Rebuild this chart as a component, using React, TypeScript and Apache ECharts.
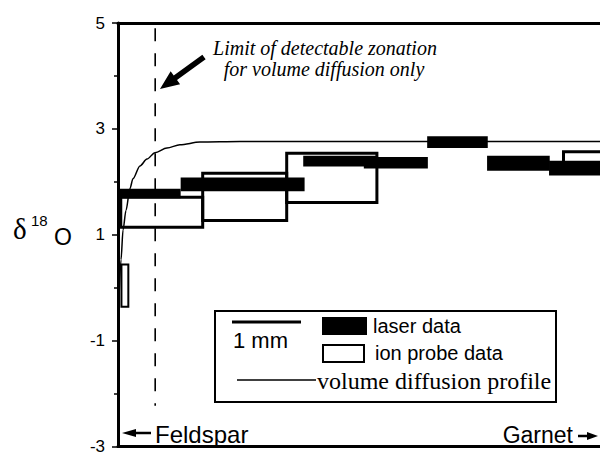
import React, { useEffect, useRef } from "react";
import * as echarts from "echarts";

// y-axis tick values (δ18O)
const yMajorTicks = [-3, -1, 1, 3, 5];
const yMinorTicks = [-2, 0, 2, 4];

// laser data: [start mm, end mm, low δ18O, high δ18O]
const laserBars = [
  [0.02, 0.91, 1.69, 1.87],
  [0.91, 2.71, 1.82, 2.08],
  [2.69, 3.76, 2.29, 2.49],
  [3.57, 4.5, 2.25, 2.47],
  [4.49, 5.37, 2.64, 2.86],
  [5.36, 6.27, 2.21, 2.49],
  [6.26, 7.1, 2.12, 2.4],
];

// ion probe data: [start mm, end mm, low δ18O, high δ18O]
const ionProbeBoxes = [
  [0.05, 0.15, -0.36, 0.44],
  [0.04, 1.23, 1.14, 1.71],
  [1.23, 2.45, 1.27, 2.16],
  [2.45, 3.76, 1.61, 2.54],
  [6.47, 7.1, 2.3, 2.57],
];

// volume diffusion profile
const diffusionX = [0.015, 0.044, 0.073, 0.116, 0.174, 0.218, 0.319, 0.421, 0.537, 0.711, 0.9, 1.19, 1.77, 7.0];
const diffusionY = [-0.18, 0.53, 1.09, 1.46, 1.875, 2.06, 2.3, 2.43, 2.55, 2.64, 2.7, 2.75, 2.76, 2.76];

// limit of detectable zonation (dashed line)
const limitX = 0.54;
const limitY = [4.9, -2.23];

const SANS = "'Liberation Sans', Arial, sans-serif";
const SERIF = "'Liberation Serif', 'Times New Roman', serif";

function arrowPoints(tail: number[], tip: number[], shaftHalf: number, headLen: number, headHalf: number) {
  const dx = tip[0] - tail[0];
  const dy = tip[1] - tail[1];
  const len = Math.sqrt(dx * dx + dy * dy);
  const ux = dx / len, uy = dy / len;
  const nx = -uy, ny = ux;
  const bx = tip[0] - ux * headLen, by = tip[1] - uy * headLen;
  return [
    [tail[0] + nx * shaftHalf, tail[1] + ny * shaftHalf],
    [bx + nx * shaftHalf, by + ny * shaftHalf],
    [bx + nx * headHalf, by + ny * headHalf],
    [tip[0], tip[1]],
    [bx - nx * headHalf, by - ny * headHalf],
    [bx - nx * shaftHalf, by - ny * shaftHalf],
    [tail[0] - nx * shaftHalf, tail[1] - ny * shaftHalf],
  ];
}

export default function App() {
  const ref = useRef<HTMLDivElement>(null);

  useEffect(() => {
    if (!ref.current) return;
    const chart = echarts.init(ref.current, undefined, { renderer: "svg" });

    const rectItem = (filled: boolean) => (_params: any, api: any) => {
      const a = api.coord([api.value(0), api.value(3)]);
      const b = api.coord([api.value(1), api.value(2)]);
      const w = b[0] - a[0];
      return {
        type: "rect",
        shape: { x: a[0], y: a[1], width: w, height: b[1] - a[1] },
        style: filled
          ? { fill: "#000" }
          : { fill: "none", stroke: "#000", lineWidth: w < 12 ? 2 : 3 },
      };
    };

    const option: any = {
      animation: false,
      backgroundColor: "#fff",
      grid: { left: 118, top: 23, height: 428.5, right: 0 },
      xAxis: [
        {
          type: "value", min: 0, max: 7, position: "bottom",
          axisLine: { show: true, onZero: false, lineStyle: { color: "#000", width: 3 } },
          axisTick: { show: false }, axisLabel: { show: false }, splitLine: { show: false },
        },
        {
          type: "value", min: 0, max: 7, position: "top",
          axisLine: { show: true, onZero: false, lineStyle: { color: "#000", width: 3 } },
          axisTick: { show: false }, axisLabel: { show: false }, splitLine: { show: false },
        },
      ],
      yAxis: [
        {
          type: "value", min: -3, max: 5, position: "left",
          axisLine: { show: true, onZero: false, lineStyle: { color: "#000", width: 3 } },
          axisTick: { show: true, length: 6, customValues: yMajorTicks, lineStyle: { color: "#000", width: 1.5 } },
          axisLabel: {
            customValues: yMajorTicks, color: "#000", fontSize: 17, fontFamily: SANS, margin: 13,
            formatter: (v: number) => String(v),
          },
          splitLine: { show: false },
        },
        {
          type: "value", min: -3, max: 5, position: "left", offset: 0,
          axisLine: { show: false, onZero: false },
          axisTick: { show: true, length: 4, customValues: yMinorTicks, lineStyle: { color: "#000", width: 1.5 } },
          axisLabel: { show: false }, splitLine: { show: false },
        },
      ],
      series: [
        {
          type: "custom", name: "ion probe data", z: 2,
          renderItem: rectItem(false), encode: { x: [0, 1], y: [2, 3] },
          data: ionProbeBoxes,
        },
        {
          type: "custom", name: "laser data", z: 3,
          renderItem: rectItem(true), encode: { x: [0, 1], y: [2, 3] },
          data: laserBars,
        },
        {
          type: "line", name: "volume diffusion profile", z: 4,
          data: diffusionX.map((x, i) => [x, diffusionY[i]]),
          smooth: 0.3, smoothMonotone: "x", showSymbol: false, symbol: "none",
          lineStyle: { color: "#000", width: 1.5 },
        },
        {
          type: "line", name: "limit", z: 4,
          data: limitY.map((y) => [limitX, y]),
          showSymbol: false, symbol: "none",
          lineStyle: { color: "#000", width: 1.6, type: [13, 12] },
        },
      ],
      graphic: [
        // annotation
        {
          type: "text", z: 10,
          style: {
            text: "Limit of detectable zonation", x: 325, y: 48,
            font: `italic 20px ${SERIF}`, fill: "#000",
            textAlign: "center", align: "center", textVerticalAlign: "middle", verticalAlign: "middle",
          },
        },
        {
          type: "text", z: 10,
          style: {
            text: "for volume diffusion only", x: 324, y: 69,
            font: `italic 20px ${SERIF}`, fill: "#000",
            textAlign: "center", align: "center", textVerticalAlign: "middle", verticalAlign: "middle",
          },
        },
        {
          type: "polygon", z: 10,
          shape: { points: arrowPoints([204, 57], [160, 89], 2.8, 19, 8) },
          style: { fill: "#000" },
        },
        // y axis title
        {
          type: "text", z: 10,
          style: { text: "δ", x: 13, y: 243, font: `29px ${SERIF}`, fill: "#000", textVerticalAlign: "bottom", verticalAlign: "bottom" },
        },
        {
          type: "text", z: 10,
          style: { text: "18", x: 31, y: 220, font: `15px ${SANS}`, fill: "#000", textVerticalAlign: "middle", verticalAlign: "middle" },
        },
        {
          type: "text", z: 10,
          style: { text: "O", x: 54, y: 237, font: `23px ${SANS}`, fill: "#000", textVerticalAlign: "middle", verticalAlign: "middle" },
        },
        // legend
        {
          type: "rect", z: 10,
          shape: { x: 215, y: 311, width: 341, height: 91 },
          style: { fill: "#fff", stroke: "#000", lineWidth: 2 },
        },
        {
          type: "line", z: 11,
          shape: { x1: 232, y1: 322, x2: 301, y2: 322 },
          style: { stroke: "#000", lineWidth: 3 },
        },
        {
          type: "text", z: 11,
          style: { text: "1 mm", x: 233, y: 340, font: `22px ${SANS}`, fill: "#000", textVerticalAlign: "middle", verticalAlign: "middle" },
        },
        {
          type: "rect", z: 11,
          shape: { x: 322, y: 317, width: 45, height: 18 },
          style: { fill: "#000" },
        },
        {
          type: "text", z: 11,
          style: { text: "laser data", x: 373, y: 326, font: `20px ${SANS}`, fill: "#000", textVerticalAlign: "middle", verticalAlign: "middle" },
        },
        {
          type: "rect", z: 11,
          shape: { x: 323, y: 345, width: 41, height: 17 },
          style: { fill: "none", stroke: "#000", lineWidth: 2 },
        },
        {
          type: "text", z: 11,
          style: { text: "ion probe data", x: 375, y: 353, font: `20px ${SANS}`, fill: "#000", textVerticalAlign: "middle", verticalAlign: "middle" },
        },
        {
          type: "line", z: 11,
          shape: { x1: 237, y1: 380, x2: 316, y2: 380 },
          style: { stroke: "#000", lineWidth: 1.5 },
        },
        {
          type: "text", z: 11,
          style: { text: "volume diffusion profile", x: 317, y: 381, font: `24px ${SERIF}`, fill: "#000", textVerticalAlign: "middle", verticalAlign: "middle" },
        },
        // Feldspar / Garnet
        {
          type: "polygon", z: 10,
          shape: { points: arrowPoints([151, 433], [122, 433], 1.2, 14, 4) },
          style: { fill: "#000" },
        },
        {
          type: "text", z: 10,
          style: { text: "Feldspar", x: 155, y: 434, font: `24px ${SANS}`, fill: "#000", textVerticalAlign: "middle", verticalAlign: "middle" },
        },
        {
          type: "text", z: 10,
          style: {
            text: "Garnet", x: 573, y: 435, font: `23px ${SANS}`, fill: "#000",
            textAlign: "right", align: "right", textVerticalAlign: "middle", verticalAlign: "middle",
          },
        },
        {
          type: "polygon", z: 10,
          shape: { points: arrowPoints([578, 436], [598, 436], 1.2, 11, 4) },
          style: { fill: "#000" },
        },
      ],
    };

    chart.setOption(option);
    return () => chart.dispose();
  }, []);

  return (
    <div
      ref={ref}
      style={{ position: "fixed", left: 0, top: 0, width: 600, height: 455, background: "#fff" }}
    />
  );
}
